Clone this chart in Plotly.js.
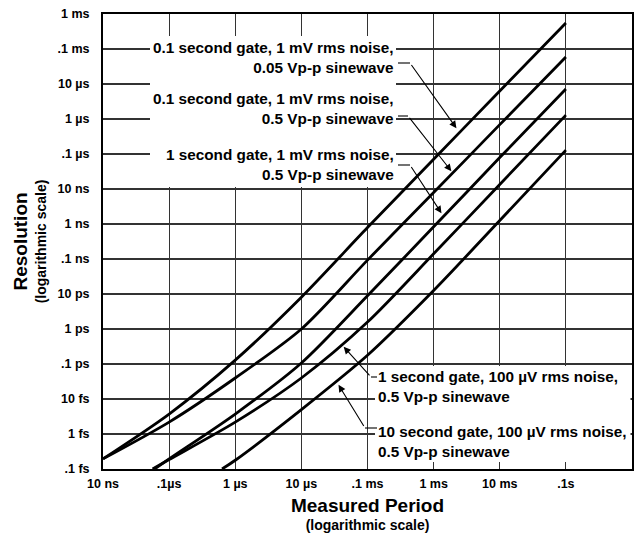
<!DOCTYPE html>
<html>
<head>
<meta charset="utf-8">
<script src="https://cdn.plot.ly/plotly-3.0.1.min.js"></script>
<style>html,body{margin:0;padding:0;background:#fff;}#chart{width:637px;height:538px;}</style>
</head>
<body>
<div id="chart"></div>
<script>
// Measured period (seconds) and resolution (seconds)
const c1Period = [1e-8, 1e-7, 1e-6, 1e-5, 1e-4, 1e-3, 1e-2, 1e-1];
const c1Res    = [1.95e-16, 3.72e-15, 1.29e-13, 8.1e-12, 7.9e-10, 7.1e-8, 6.3e-6, 5.5e-4];

const c2Period = [1e-8, 1e-7, 1e-6, 1e-5, 1e-4, 1e-3, 1e-2, 1e-1];
const c2Res    = [1.95e-16, 2.19e-15, 3.98e-14, 1.0e-12, 9.3e-11, 7.9e-9, 6.9e-7, 5.9e-5];

const c3Period = [6.03e-8, 1e-7, 1e-6, 1e-5, 1e-4, 1e-3, 1e-2, 1e-1];
const c3Res    = [1e-16, 1.95e-16, 3.72e-15, 1.07e-13, 8.9e-12, 8.3e-10, 7.9e-8, 7.2e-6];

const c4Period = [5.62e-8, 1e-7, 1e-6, 1e-5, 1e-4, 1e-3, 1e-2, 1e-1];
const c4Res    = [1e-16, 1.86e-16, 2.19e-15, 3.98e-14, 1.58e-12, 1.41e-10, 1.35e-8, 1.29e-6];

const c5Period = [6.31e-7, 1e-6, 1e-5, 1e-4, 1e-3, 1e-2, 1e-1];
const c5Res    = [1e-16, 1.78e-16, 5.0e-15, 1.78e-13, 1.26e-11, 1.26e-9, 1.29e-7];

const curveNames = [
  "0.1 second gate, 1 mV rms noise,<br>0.05 Vp-p sinewave",
  "0.1 second gate, 1 mV rms noise,<br>0.5 Vp-p sinewave",
  "1 second gate, 1 mV rms noise,<br>0.5 Vp-p sinewave",
  "1 second gate, 100 \u00b5V rms noise,<br>0.5 Vp-p sinewave",
  "10 second gate, 100 \u00b5V rms noise,<br>0.5 Vp-p sinewave"
];

const xTickVals = [1e-8, 1e-7, 1e-6, 1e-5, 1e-4, 1e-3, 1e-2, 1e-1, 1];
const xTickText = ["10 ns", ".1\u00b5s", "1 \u00b5s", "10 \u00b5s", ".1 ms", "1 ms", "10 ms", ".1s", "1s"];
const yTickVals = [1e-16, 1e-15, 1e-14, 1e-13, 1e-12, 1e-11, 1e-10, 1e-9, 1e-8, 1e-7, 1e-6, 1e-5, 1e-4, 1e-3];
const yTickText = [".1 fs", "1 fs", "10 fs", ".1 ps", "1 ps", "10 ps", ".1 ns", "1 ns", "10 ns", ".1 \u00b5s", "1 \u00b5s", "10 \u00b5s", ".1 ms", "1 ms"];

const allX = [c1Period, c2Period, c3Period, c4Period, c5Period];
const allY = [c1Res, c2Res, c3Res, c4Res, c5Res];

const FONT = "Liberation Sans, Arial, Helvetica, sans-serif";

const traces = allX.map((xs, i) => ({
  type: "scatter", mode: "lines", x: xs, y: allY[i],
  name: curveNames[i].replace("<br>", " "),
  line: {color: "#000", width: 2.8, shape: "spline", smoothing: 0.8},
  hoverinfo: "skip", showlegend: false
}));

// plot box in pixels: left 103, right 632, top 14, bottom 469
const PL = 103, PW = 529, PT = 14, PH = 455;
const px = v => (v - PL) / PW;
const py = v => (PT + PH - v) / PH;
// convert pixel to log axis coords for arrow targets
const lx = v => -8 + (v - PL) * 8 / PW;
const ly = v => -3 - (v - PT) * 13 / PH;

const labelFont = {family: FONT, size: 15.3, color: "#000", weight: "bold"};

const labelPos = [
  {x: 396, y: 58, anchor: "right"},
  {x: 396, y: 108.5, anchor: "right"},
  {x: 396, y: 164, anchor: "right"},
  {x: 376, y: 386.5, anchor: "left"},
  {x: 376, y: 441, anchor: "left"}
];
const annotations = curveNames.map((t, i) => ({
  xref: "paper", yref: "paper", x: px(labelPos[i].x), y: py(labelPos[i].y),
  xanchor: labelPos[i].anchor, yanchor: "middle", align: labelPos[i].anchor,
  text: t, showarrow: false, font: labelFont
}));

// leader arrows: tip (pixel) and elbow (pixel)
const leaders = [
  {tip: [457, 129], elbow: [410, 63], stub: [398, 410, 63]},
  {tip: [452, 172], elbow: [408, 116], stub: [398, 408, 116]},
  {tip: [442, 214], elbow: [410, 165], stub: [398, 410, 165]},
  {tip: [343, 346], elbow: [371, 377], stub: [377, 371, 377]},
  {tip: [338, 384], elbow: [365, 428], stub: [377, 365, 428]}
];
leaders.forEach(l => {
  annotations.push({
    xref: "x", yref: "y", x: lx(l.tip[0]), y: ly(l.tip[1]),
    ax: l.elbow[0] - l.tip[0], ay: l.elbow[1] - l.tip[1],
    text: " ", font: {size: 1}, showarrow: true, arrowhead: 2, arrowsize: 1.3,
    arrowwidth: 1.1, arrowcolor: "#000", standoff: 1, startstandoff: 0
  });
});

const shapes = [
  // white masks behind the label blocks (hide grid lines)
  {type: "rect", xref: "paper", yref: "paper", x0: px(150), x1: px(396), y0: py(187), y1: py(36),
   fillcolor: "#fff", line: {width: 0}, layer: "above"},
  {type: "rect", xref: "paper", yref: "paper", x0: px(375), x1: px(630.5), y0: py(462), y1: py(366),
   fillcolor: "#fff", line: {width: 0}, layer: "above"}
];
leaders.forEach(l => {
  shapes.push({type: "line", xref: "paper", yref: "paper",
    x0: px(l.stub[0]), x1: px(l.stub[1]), y0: py(l.stub[2]), y1: py(l.stub[2]),
    line: {color: "#000", width: 1.1}, layer: "above"});
});

const layout = {
  width: 637, height: 538,
  margin: {l: PL, r: 637 - PL - PW, t: PT, b: 538 - PT - PH, pad: 0},
  paper_bgcolor: "#fff", plot_bgcolor: "#fff",
  font: {family: FONT, color: "#000", size: 12.5, weight: "bold"},
  showlegend: false,
  xaxis: {
    type: "log", range: [-8, 0], tickmode: "array", tickvals: xTickVals, ticktext: xTickText,
    showgrid: true, gridcolor: "#333", gridwidth: 1.1,
    showline: true, linecolor: "#000", linewidth: 2, mirror: true,
    ticks: "", ticklabelstandoff: 2,
    tickfont: {family: FONT, size: 12.5, color: "#000", weight: "bold"},
    title: {text: "<span style='font-size:19px'>Measured Period</span><br>(logarithmic scale)",
            font: {family: FONT, size: 14, color: "#000", weight: "bold"}, standoff: 12},
    automargin: false, fixedrange: true
  },
  yaxis: {
    type: "log", range: [-16, -3], tickmode: "array", tickvals: yTickVals, ticktext: yTickText,
    showgrid: true, gridcolor: "#333", gridwidth: 1.1,
    showline: true, linecolor: "#000", linewidth: 2, mirror: true,
    ticks: "", ticklabelstandoff: 9,
    tickfont: {family: FONT, size: 12.5, color: "#000", weight: "bold"},
    title: {text: "<span style='font-size:19px'>Resolution</span><br>(logarithmic scale)",
            font: {family: FONT, size: 14, color: "#000", weight: "bold"}, standoff: 8},
    automargin: false, fixedrange: true
  },
  annotations: annotations,
  shapes: shapes
};

Plotly.newPlot("chart", traces, layout, {staticPlot: true, displayModeBar: false});
</script>
</body>
</html>
